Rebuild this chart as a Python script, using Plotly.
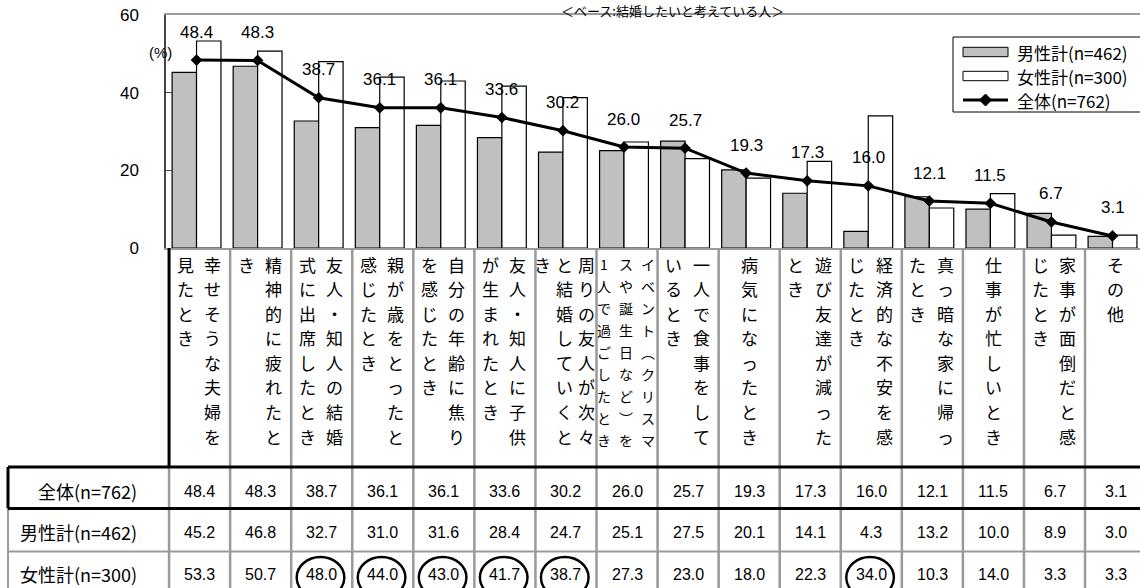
import plotly.graph_objects as go

# ---------------- data ----------------
categories = [
    "幸せそうな夫婦を見たとき",
    "精神的に疲れたとき",
    "友人・知人の結婚式に出席したとき",
    "親が歳をとったと感じたとき",
    "自分の年齢に焦りを感じたとき",
    "友人・知人に子供が生まれたとき",
    "周りの友人が次々と結婚していくとき",
    "イベント（クリスマスや誕生日など）を1人で過ごしたとき",
    "一人で食事をしているとき",
    "病気になったとき",
    "遊び友達が減ったとき",
    "経済的な不安を感じたとき",
    "真っ暗な家に帰ったとき",
    "仕事が忙しいとき",
    "家事が面倒だと感じたとき",
    "その他",
]
total = [48.4, 48.3, 38.7, 36.1, 36.1, 33.6, 30.2, 26.0, 25.7, 19.3, 17.3, 16.0, 12.1, 11.5, 6.7, 3.1]
male = [45.2, 46.8, 32.7, 31.0, 31.6, 28.4, 24.7, 25.1, 27.5, 20.1, 14.1, 4.3, 13.2, 10.0, 8.9, 3.0]
female = [53.3, 50.7, 48.0, 44.0, 43.0, 41.7, 38.7, 27.3, 23.0, 18.0, 22.3, 34.0, 10.3, 14.0, 3.3, 3.3]
circled = [2, 3, 4, 5, 6, 11]          # highlighted female values
name_male = "男性計(n=462)"
name_female = "女性計(n=300)"
name_total = "全体(n=762)"
title_text = "＜ベース:結婚したいと考えている人＞"
y_ticks = [0, 20, 40, 60]

# ---------------- geometry helpers ----------------
W, H = 1140, 588
L, T, B = 166, 15, 340
PW = W - L
PH = H - T - B
BASE = H - B
XR = [-0.5, 15.45]
TDX = 0.05  # table grid offset (category units)


def xp(px):
    return (px - L) / PW


def yp(py):
    return (BASE - py) / PH


NUMF = "Liberation Sans, Arial, Noto Sans CJK JP, sans-serif"
JF = "Noto Sans CJK JP, Liberation Sans, sans-serif"

fig = go.Figure()
fig.add_bar(x=categories, y=male, name=name_male,
            marker=dict(color="#c0c0c0", line=dict(color="black", width=1.2)))
fig.add_bar(x=categories, y=female, name=name_female,
            marker=dict(color="white", line=dict(color="black", width=1.2)))
fig.add_scatter(x=categories, y=total, name=name_total, mode="lines+markers",
                line=dict(color="black", width=3),
                marker=dict(symbol="diamond", size=9, color="black"))

ann = []
shapes = []

# line data labels
for c, v in zip(categories, total):
    ann.append(dict(x=c, y=v, xref="x", yref="y", text=f"{v:.1f}", showarrow=False,
                    yshift=28, font=dict(family=NUMF, size=17, color="black")))

# title and unit
ann.append(dict(x=xp(672), y=yp(0), xref="paper", yref="paper", text=title_text,
                showarrow=False, yanchor="top", borderpad=0,
                font=dict(family=JF, size=13, color="black")))
ann.append(dict(x=xp(147), y=yp(42), xref="paper", yref="paper", text="(%)",
                showarrow=False, font=dict(family=NUMF, size=15, color="black")))

# manual legend
shapes.append(dict(type="rect", xref="paper", yref="paper", x0=xp(953), x1=xp(1150),
                   y0=yp(37), y1=yp(112), line=dict(color="black", width=1), fillcolor="white"))
leg_rows = [52, 76, 100]
shapes.append(dict(type="rect", xref="paper", yref="paper", x0=xp(963), x1=xp(1008),
                   y0=yp(leg_rows[0] - 4.7), y1=yp(leg_rows[0] + 4.7),
                   line=dict(color="black", width=1), fillcolor="#c0c0c0"))
shapes.append(dict(type="rect", xref="paper", yref="paper", x0=xp(963), x1=xp(1008),
                   y0=yp(leg_rows[1] - 4.7), y1=yp(leg_rows[1] + 4.7),
                   line=dict(color="black", width=1), fillcolor="white"))
shapes.append(dict(type="line", xref="paper", yref="paper", x0=xp(963), x1=xp(1008),
                   y0=yp(leg_rows[2]), y1=yp(leg_rows[2]), line=dict(color="black", width=3)))
cx, cy, r = 985.5, leg_rows[2], 6
pts = [(cx - r, cy), (cx, cy - r), (cx + r, cy), (cx, cy + r)]
shapes.append(dict(type="path", xref="paper", yref="paper",
                   path="M " + " L ".join(f"{xp(a):.5f},{yp(b):.5f}" for a, b in pts) + " Z",
                   fillcolor="black", line=dict(color="black", width=1)))
for row, nm in zip(leg_rows, [name_male, name_female, name_total]):
    ann.append(dict(x=xp(1015), y=yp(row), xref="paper", yref="paper", text=nm,
                    xanchor="left", yanchor="middle", showarrow=False,
                    font=dict(family=JF, size=17, color="black")))

# ---------------- table ----------------
GRAY = "#9a9a9a"
TOP_HDR = BASE
ROW_LINES = [467, 508.5, 551.5]
ROW_CENTERS = [491, 532, 574]

# vertical separators
for k in range(1, 16):
    shapes.append(dict(type="line", xref="x", yref="paper", x0=k - 0.5 + TDX, x1=k - 0.5 + TDX,
                       y0=yp(TOP_HDR), y1=yp(600), line=dict(color=GRAY, width=2.5)))
shapes.append(dict(type="line", xref="x", yref="paper", x0=-0.5 + TDX, x1=-0.5 + TDX,
                   y0=yp(TOP_HDR), y1=yp(467), line=dict(color="black", width=3)))
shapes.append(dict(type="line", xref="x", yref="paper", x0=-0.5 + TDX, x1=-0.5 + TDX,
                   y0=yp(467), y1=yp(600), line=dict(color=GRAY, width=2.5)))
# left border of row labels
shapes.append(dict(type="line", xref="paper", yref="paper", x0=xp(8), x1=xp(8),
                   y0=yp(467), y1=yp(508.5), line=dict(color="black", width=3)))
shapes.append(dict(type="line", xref="paper", yref="paper", x0=xp(8), x1=xp(8),
                   y0=yp(508.5), y1=yp(600), line=dict(color=GRAY, width=2)))
# horizontal lines
for yy, col, wd in zip(ROW_LINES, ["black", "black", GRAY], [3, 3, 2]):
    shapes.append(dict(type="line", xref="paper", yref="paper", x0=xp(8), x1=xp(1150),
                       y0=yp(yy), y1=yp(yy), line=dict(color=col, width=wd)))

# row labels and values
for yc, nm, vals in zip(ROW_CENTERS, [name_total, name_male, name_female], [total, male, female]):
    ann.append(dict(x=xp(139), y=yp(yc), xref="paper", yref="paper", text=nm, xanchor="right",
                    yanchor="middle", showarrow=False, font=dict(family=JF, size=18, color="black")))
    for i, v in enumerate(vals):
        ann.append(dict(x=i + TDX, y=yp(yc), xref="x", yref="paper", text=f"{v:.1f}",
                        yanchor="middle", showarrow=False,
                        font=dict(family=NUMF, size=16, color="black")))

# circles around highlighted female values
for i in circled:
    c = i + TDX
    shapes.append(dict(type="circle", xref="x", yref="paper", x0=c - 0.41, x1=c + 0.37,
                       y0=yp(557), y1=yp(598), line=dict(color="black", width=2.5)))

# vertical category headers
VMAP = {"（": "︵", "）": "︶"}
for i, cat in enumerate(categories):
    size = 9 if len(cat) > 24 else 8
    chunks = [cat[j:j + size] for j in range(0, len(cat), size)]
    n = len(chunks)
    if n == 1:
        offs = [0]
    elif n == 2:
        offs = [13, -14.5]
    else:
        offs = [21, -1, -23]
    fsz = 14 if size == 9 else 17
    step = 22 if size == 9 else 24.6
    for chunk, off in zip(chunks, offs):
        for r_i, ch in enumerate(chunk):
            ann.append(dict(x=i + TDX, y=yp(264 + r_i * step), xref="x", yref="paper",
                            text=VMAP.get(ch, ch), xshift=off, yanchor="middle",
                            showarrow=False, font=dict(family=JF, size=fsz, color="black")))

fig.update_layout(
    width=W, height=H,
    margin=dict(l=L, r=0, t=T, b=B, pad=0),
    paper_bgcolor="white", plot_bgcolor="white",
    barmode="group", bargap=0.2, bargroupgap=0,
    showlegend=False,
    annotations=ann, shapes=shapes,
    font=dict(family=JF, color="black"),
)
fig.update_xaxes(range=XR, showticklabels=False, ticks="", showgrid=False, showline=True,
                 linecolor=GRAY, linewidth=2, mirror=True, zeroline=False)
fig.update_yaxes(range=[0, 60], tickvals=y_ticks, ticks="inside", ticklen=6, tickcolor="#444",
                 showline=True, linecolor="#444", linewidth=1.5, showgrid=False, zeroline=False,
                 tickfont=dict(family=NUMF, size=17, color="black"), ticklabelstandoff=22)

fig.write_html("out.html")
